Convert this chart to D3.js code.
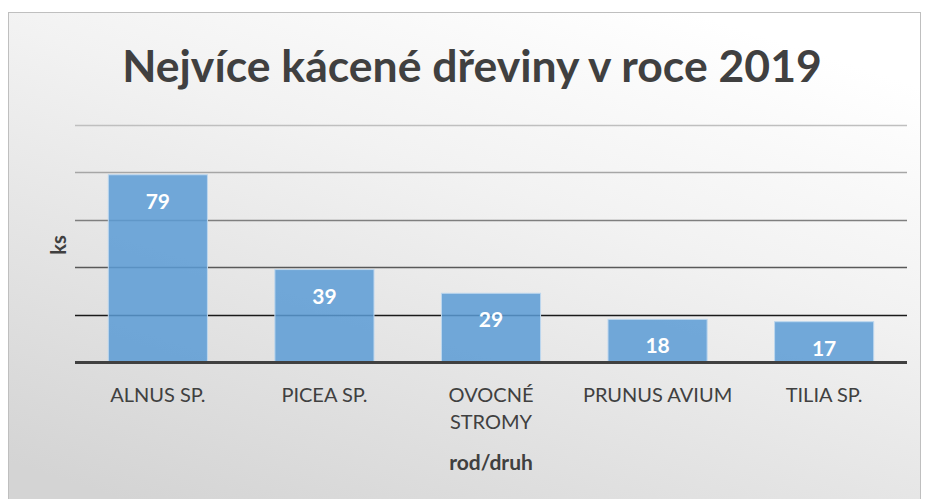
<!DOCTYPE html>
<html><head><meta charset="utf-8">
<script src="https://cdn.jsdelivr.net/npm/d3@7"></script>
<style>body{margin:0;background:#fff}svg{display:block}text{font-family:Lato,"Open Sans",sans-serif}</style>
</head><body>
<svg id="c" width="926" height="499"></svg>
<script>
const categories = ["ALNUS SP.", "PICEA SP.", "OVOCNÉ STROMY", "PRUNUS AVIUM", "TILIA SP."];
const values = [79, 39, 29, 18, 17];
const gridTicks = [20, 40, 60, 80, 100];
const title = "Nejvíce kácené dřeviny v roce 2019";
const xTitle = "rod/druh";
const yTitle = "ks";

const svg = d3.select("#c");
const defs = svg.append("defs");
const g = defs.append("linearGradient").attr("id","bg").attr("x1","0.75").attr("y1","0").attr("x2","0.15").attr("y2","1");
g.append("stop").attr("offset","0").attr("stop-color","#ffffff");
g.append("stop").attr("offset","0.35").attr("stop-color","#f2f2f2");
g.append("stop").attr("offset","1").attr("stop-color","#d4d4d4");

svg.append("rect").attr("x",8.5).attr("y",12.5).attr("width",912).attr("height",495)
  .attr("fill","url(#bg)").attr("stroke","#bfbfbf").attr("stroke-width",1);

const x = d3.scaleBand().domain(categories).range([75, 907]).paddingInner(0.405).paddingOuter(0.2);
const y = d3.scaleLinear().domain([0, 100]).range([362, 125]);

const gridColors = {20:"#1a1a1a",40:"#595959",60:"#7f7f7f",80:"#a6a6a6",100:"#bfbfbf"};
const grid = svg.append("g");
grid.selectAll("line").data(gridTicks).join("line")
  .attr("x1",75).attr("x2",907)
  .attr("y1",d=>Math.round(y(d))+0.5).attr("y2",d=>Math.round(y(d))+0.5)
  .attr("stroke",d=>gridColors[d]).attr("stroke-width",d=>d===20?1.5:1.3);

svg.append("g").selectAll("rect").data(values).join("rect")
  .attr("x",(d,i)=>x(categories[i]))
  .attr("y",d=>y(d))
  .attr("width",x.bandwidth())
  .attr("height",d=>y(0)-y(d))
  .attr("fill","#5b9bd5").attr("fill-opacity",0.85)
  .attr("stroke","#bdd7ee").attr("stroke-width",1);

svg.append("line").attr("x1",75).attr("x2",907).attr("y1",y(0)+0.5).attr("y2",y(0)+0.5)
  .attr("stroke","#404040").attr("stroke-width",3);

svg.append("g").selectAll("text").data(values).join("text")
  .attr("x",(d,i)=>x(categories[i])+x.bandwidth()/2)
  .attr("y",d=>y(d)+34)
  .attr("text-anchor","middle").attr("fill","#fff")
  .attr("font-weight","bold").attr("font-size",21).text(d=>d);

const xl = svg.append("g");
categories.forEach((c,i)=>{
  const cx = x(c)+x.bandwidth()/2;
  const words = c === "OVOCNÉ STROMY" ? ["OVOCNÉ","STROMY"] : [c];
  words.forEach((w,j)=>{
    xl.append("text").attr("x",cx).attr("y",402+j*27).attr("text-anchor","middle")
      .attr("fill","#404040").attr("font-size",20).text(w);
  });
});

svg.append("text").attr("x",491).attr("y",470).attr("text-anchor","middle")
  .attr("fill","#404040").attr("font-weight","bold").attr("font-size",21).text(xTitle);

svg.append("text").attr("transform","translate(66,245) rotate(-90)").attr("text-anchor","middle")
  .attr("fill","#404040").attr("font-weight","bold").attr("font-size",20).text(yTitle);

const t = svg.append("text").attr("x",472).attr("y",82).attr("text-anchor","middle")
  .attr("fill","#404040").attr("font-weight","bold").attr("font-size",44).text(title);
const w = t.node().getComputedTextLength();
t.attr("font-size", 44*700/w);
</script>
</body></html>
